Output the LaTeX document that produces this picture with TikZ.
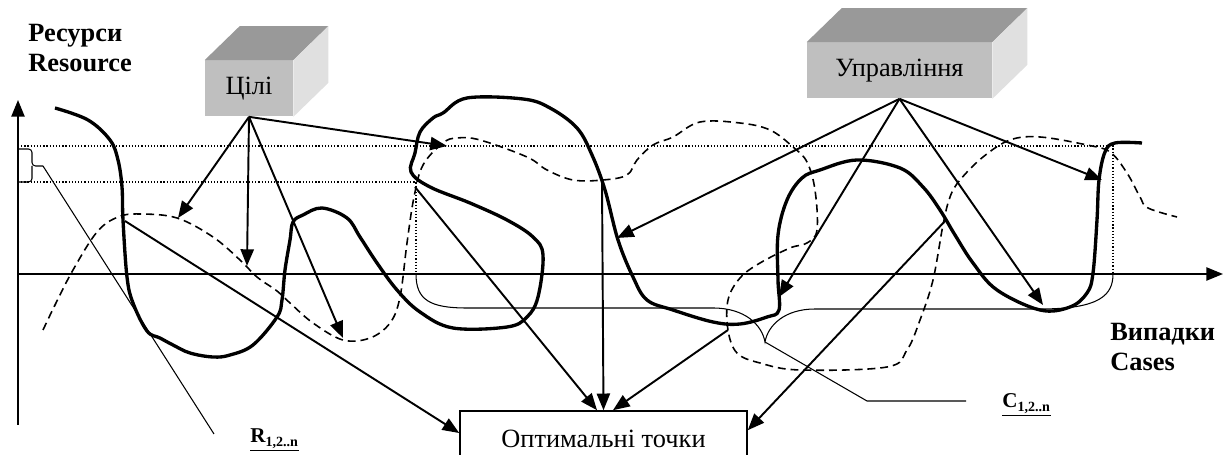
\documentclass[tikz,border=0pt]{standalone}
\usepackage{fontspec}
\setmainfont{Liberation Serif}
\usetikzlibrary{arrows.meta}
\tikzstyle{kub} = [fill=black!25, text centered, inner sep=0pt,
  minimum height=1.12cm, font=\fontsize{15}{17}\selectfont]
\tikzstyle{vyhid} = [draw, fill=white, line width=0.9pt, inner sep=0pt,
  minimum width=5.74cm, minimum height=1.12cm,
  font=\fontsize{15}{17}\selectfont]
\tikzstyle{napys} = [align=left, inner sep=0pt,
  font=\bfseries\fontsize{15}{17}\selectfont]
\tikzstyle{indeks} = [inner sep=0pt, font=\bfseries\fontsize{12}{14}\selectfont]
\tikzset{
    big arrow/.style={-{Triangle[length=9.5pt,width=7.5pt]}}}
\tikzstyle{strilka} = [draw, line width=1.1pt, big arrow]
\tikzstyle{vis} = [draw, line width=1.1pt]
\tikzstyle{tonka} = [draw, line width=0.6pt]
\tikzstyle{riven} = [draw, line width=0.7pt, dash pattern=on 0.7pt off 1.1pt]
\tikzstyle{kryva} = [draw, line width=1.9pt, line join=round]
\tikzstyle{shtrykh} = [draw, line width=0.9pt, dash pattern=on 4.5pt off 2.8pt]
\newcommand{\blok}[3]{node (p#1) [kub, minimum width=#2] {#3}}
\newcommand{\vyhid}[2]{node (p#1) [vyhid] {#2}}
\newcommand{\kub}[1]{%
  % top face
  \fill[black!40] (#1.north west) -- ++(35,-34)
    -- ([shift={(35,-34)}]#1.north east) -- (#1.north east) -- cycle;
  % side face
  \fill[black!12] (#1.north east) -- ++(35,-34)
    -- ([shift={(35,-34)}]#1.south east) -- (#1.south east) -- cycle;}

\begin{document}
\begin{tikzpicture}[x=0.02cm, y=-0.02cm]
\useasboundingbox (0,0) rectangle (1224,455);
% Draw diagram elements
\path (249,88.5) \blok{1}{1.76cm}{Цілі};
\path (899.5,70.5) \blok{2}{3.7cm}{Управління};
\path (603.5,439) \vyhid{3}{Оптимальні точки};
\kub{p1}
\kub{p2}

\node (res) [napys, anchor=west] at (28,48) {Ресурси\\Resource};
\node (vyp) [napys, anchor=west] at (1110,347) {Випадки\\Cases};
\node (rl) [indeks, anchor=base west] at (250,443) {\underline{R\textsubscript{1,2..n}}};
\node (cl) [indeks, anchor=base west] at (1002,408) {\underline{C\textsubscript{1,2..n}}};

% Axes
\coordinate (o) at (18,274);
\coordinate (ytop) at (18,100);
\coordinate (ybot) at (18,425);
\coordinate (xend) at (1223,274);
\path [vis, big arrow] (ybot) -- (ytop);
\path [vis, big arrow] (o) -- (xend);

% Levels
\path [riven] (18,146) -- (1113,146) -- (1113,274);
\path [riven] (18,182) -- (416,182) -- (416,274);

% Braces and their labels
\coordinate (rb) at (43,166);
\coordinate (re) at (214,434);
\path [tonka, rounded corners=2pt] (18,149) -| (32,166) -- (rb);
\path [tonka, rounded corners=2pt] (32,166) |- (18,182);
\path [tonka] (rb) -- (re);
\coordinate (ct) at (765,342);
\coordinate (cz) at (867,401);
\coordinate (ce) at (966,401);
\path [tonka] (416,274) .. controls (416,300) and (430,308) .. (467,308)
  -- (713,308) .. controls (745,308) and (762,325) .. (ct)
  .. controls (768,325) and (785,309) .. (815,309) -- (1040,309)
  .. controls (1100,309) and (1113,295) .. (1113,274);
\path [tonka] (ct) -- (cz) -- (ce);

% Curves
\path [kryva] plot[smooth, tension=0.6] coordinates {
  (55,108) (88,120) (110,140) (118,160) (122,187) (123,220) (127,277)
  (133,303) (147,331) (160,338) (173,345) (190,353) (213,357) (230,355)
  (253,345) (277,317) (282,300) (285,270) (290,240) (293,222) (303,215)
  (322,208) (347,218) (360,237) (377,263) (397,290) (420,312) (453,328)
  (507,327) (527,317) (538,297) (543,255) (533,237) (507,220) (470,203)
  (430,187) (411,172) (415,153) (420,132) (433,118) (443,113) (467,98)
  (523,99) (550,108) (577,128) (592,155) (605,190) (618,240) (633,277)
  (647,300) (673,310) (713,322) (740,324) (767,317) (779,310) (778,280)
  (778,235) (787,200) (802,178) (820,170) (857,160) (900,168) (923,187)
  (940,210) (955,235) (973,263) (997,290) (1040,310) (1070,307) (1087,293)
  (1093,273) (1097,220) (1099,180) (1105,152) (1115,143) (1142,143)};
\path [shtrykh] plot[smooth, tension=0.6] coordinates {
  (43,330) (55,305) (73,270) (97,232) (118,217) (140,214) (177,218)
  (213,237) (240,260) (257,277) (277,291) (290,303) (313,323) (343,340)
  (370,338) (390,323) (400,297) (407,243) (414,197) (423,165) (443,143)
  (457,138) (480,140) (527,157) (547,170) (573,180) (603,180) (627,175)
  (637,160) (653,145) (673,137) (700,122) (740,123) (770,130) (793,147)
  (807,162) (815,190) (817,230) (807,243) (790,248) (760,263) (740,278)
  (728,300) (728,330) (737,353) (760,363) (800,370) (887,367) (907,350)
  (920,320) (933,280) (943,225) (950,197) (960,180) (983,157) (1010,140)
  (1040,137) (1087,145) (1110,152) (1127,173) (1140,197) (1148,208)
  (1177,217)};

% Draw arrows between elements
\coordinate (c1) at (178,218);
\coordinate (c2) at (247,266);
\coordinate (c3) at (343,338);
\coordinate (c4) at (447,146);
\path [strilka] (p1.south) -- (c1);
\path [strilka] (p1.south) -- (c2);
\path [strilka] (p1.south) -- (c3);
\path [strilka] (p1.south) -- (c4);
\coordinate (u1) at (617,238);
\coordinate (u2) at (779,297);
\coordinate (u3) at (1043,305);
\coordinate (u4) at (1102,180);
\path [strilka] (p2.south) -- (u1);
\path [strilka] (p2.south) -- (u2);
\path [strilka] (p2.south) -- (u3);
\path [strilka] (p2.south) -- (u4);
\coordinate (s1) at (125,221);
\coordinate (s2) at (415,187);
\coordinate (s3) at (602,182);
\coordinate (s4) at (728,330);
\coordinate (s5) at (946,220);
\path [strilka] (s1) -- ([yshift=3.4pt]p3.west);
\path [strilka] (s2) -- ([xshift=-3.7pt]p3.north);
\path [strilka] (s3) -- (p3.north);
\path [strilka] (s4) -- ([xshift=5.4pt]p3.north);
\path [strilka] (s5) -- ([yshift=5pt]p3.east);
\end{tikzpicture}
\end{document}
